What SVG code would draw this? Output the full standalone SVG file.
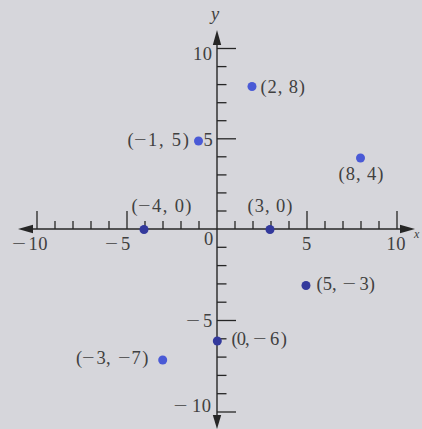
<svg xmlns="http://www.w3.org/2000/svg" width="422" height="429" viewBox="0 0 422 429">
<style>
.ax{stroke:#262626;stroke-width:1.4;fill:none}
.tk{stroke:#262626;stroke-width:1.3}
.ah{fill:#262626}
.lb{font-family:"Liberation Serif","Times New Roman",serif;font-size:18.5px;fill:#404040}
.it{font-style:italic}
.pb{fill:#4a5ad6}
.pd{fill:#33399c}
</style>
<rect width="422" height="429" fill="#d6d6db"/>
<g id="axes">
<line class="ax" x1="217" y1="40" x2="217" y2="420"/>
<line class="ax" x1="28" y1="229" x2="405" y2="229"/>
<polygon class="ah" points="217,30 212.8,45 221.2,45"/>
<polygon class="ah" points="217,429 212.8,415 221.2,415"/>
<polygon class="ah" points="18,229 33,224.8 33,233.2"/>
<polygon class="ah" points="415,229 400,224.8 400,233.2"/>
<text class="lb it" x="211" y="20">y</text>
<text class="lb it" x="414" y="238" style="font-size:12px">x</text>
</g>
<g id="x-ticks" class="tk">
<line x1="37" y1="211" x2="37" y2="229"/>
<line x1="55" y1="221" x2="55" y2="229"/>
<line x1="73" y1="221" x2="73" y2="229"/>
<line x1="91" y1="221" x2="91" y2="229"/>
<line x1="109" y1="221" x2="109" y2="229"/>
<line x1="127" y1="211" x2="127" y2="229"/>
<line x1="145" y1="221" x2="145" y2="229"/>
<line x1="163" y1="221" x2="163" y2="229"/>
<line x1="181" y1="221" x2="181" y2="229"/>
<line x1="199" y1="221" x2="199" y2="229"/>
<line x1="235" y1="221" x2="235" y2="229"/>
<line x1="253" y1="221" x2="253" y2="229"/>
<line x1="271" y1="221" x2="271" y2="229"/>
<line x1="289" y1="221" x2="289" y2="229"/>
<line x1="307" y1="211" x2="307" y2="229"/>
<line x1="325" y1="221" x2="325" y2="229"/>
<line x1="343" y1="221" x2="343" y2="229"/>
<line x1="361" y1="221" x2="361" y2="229"/>
<line x1="379" y1="221" x2="379" y2="229"/>
<line x1="397" y1="211" x2="397" y2="229"/>
</g>
<g id="y-ticks" class="tk">
<line x1="217" y1="48.5" x2="236" y2="48.5"/>
<line x1="217" y1="66.6" x2="226.5" y2="66.6"/>
<line x1="217" y1="84.6" x2="226.5" y2="84.6"/>
<line x1="217" y1="102.7" x2="226.5" y2="102.7"/>
<line x1="217" y1="120.7" x2="226.5" y2="120.7"/>
<line x1="217" y1="138.8" x2="236" y2="138.8"/>
<line x1="217" y1="156.8" x2="226.5" y2="156.8"/>
<line x1="217" y1="174.9" x2="226.5" y2="174.9"/>
<line x1="217" y1="192.9" x2="226.5" y2="192.9"/>
<line x1="217" y1="211" x2="226.5" y2="211"/>
<line x1="217" y1="247.3" x2="226.5" y2="247.3"/>
<line x1="217" y1="265.6" x2="226.5" y2="265.6"/>
<line x1="217" y1="283.9" x2="226.5" y2="283.9"/>
<line x1="217" y1="302.2" x2="226.5" y2="302.2"/>
<line x1="217" y1="320.5" x2="236" y2="320.5"/>
<line x1="217" y1="338.8" x2="226.5" y2="338.8"/>
<line x1="217" y1="357.1" x2="226.5" y2="357.1"/>
<line x1="217" y1="375.4" x2="226.5" y2="375.4"/>
<line x1="217" y1="393.7" x2="226.5" y2="393.7"/>
<line x1="217" y1="412" x2="236" y2="412"/>
</g>
<g id="tick-labels" class="lb">
<text x="193" y="60" textLength="19" lengthAdjust="spacing">10</text>
<text x="203.5" y="146">5</text>
<text x="186" y="327"><tspan textLength="14" lengthAdjust="spacingAndGlyphs">−</tspan><tspan x="203">5</tspan></text>
<text x="173.5" y="412"><tspan textLength="14" lengthAdjust="spacingAndGlyphs">−</tspan><tspan x="192" textLength="19" lengthAdjust="spacing">10</tspan></text>
<text x="12" y="250"><tspan textLength="14" lengthAdjust="spacingAndGlyphs">−</tspan><tspan x="28.5" textLength="19" lengthAdjust="spacing">10</tspan></text>
<text x="105" y="250"><tspan textLength="13" lengthAdjust="spacingAndGlyphs">−</tspan><tspan x="121">5</tspan></text>
<text x="204" y="245">0</text>
<text x="302" y="250">5</text>
<text x="386.5" y="250" textLength="19" lengthAdjust="spacing">10</text>
</g>
<g id="connectors"></g>
<g id="p-2-8"><circle class="pb" cx="252" cy="86.5" r="4.5"/><text class="lb" x="260.5" y="93" textLength="44.5" lengthAdjust="spacing">(2, 8)</text></g>
<g id="p-m1-5"><circle class="pb" cx="198.5" cy="141" r="4.5"/><text class="lb" x="127.5" y="146">(<tspan x="134" textLength="12.5" lengthAdjust="spacingAndGlyphs">−</tspan><tspan x="148" textLength="41" lengthAdjust="spacing">1, 5)</tspan></text></g>
<g id="p-8-4"><circle class="pb" cx="360.5" cy="158" r="4.5"/><text class="lb" x="338.5" y="180" textLength="45" lengthAdjust="spacing">(8, 4)</text></g>
<g id="p-m4-0"><circle class="pd" cx="144" cy="229.5" r="4.5"/><text class="lb" x="131.5" y="212">(<tspan x="138" textLength="12.5" lengthAdjust="spacingAndGlyphs">−</tspan><tspan x="152" textLength="39.5" lengthAdjust="spacing">4, 0)</tspan></text></g>
<g id="p-3-0"><circle class="pd" cx="270" cy="229.5" r="4.5"/><text class="lb" x="247.5" y="212" textLength="45" lengthAdjust="spacing">(3, 0)</text></g>
<g id="p-5-m3"><circle class="pd" cx="306" cy="285.5" r="4.5"/><text class="lb" x="316.5" y="290"><tspan textLength="20" lengthAdjust="spacing">(5,</tspan><tspan x="342.5" textLength="13.5" lengthAdjust="spacingAndGlyphs">−</tspan><tspan x="359.5">3)</tspan></text></g>
<g id="p-0-m6"><circle class="pd" cx="217.3" cy="341" r="4.5"/><text class="lb" x="231.5" y="345"><tspan textLength="18" lengthAdjust="spacing">(0,</tspan><tspan x="253" textLength="13.5" lengthAdjust="spacingAndGlyphs">−</tspan><tspan x="270" textLength="17" lengthAdjust="spacing">6)</tspan></text></g>
<g id="p-m3-m7"><circle class="pb" cx="162.7" cy="360" r="4.5"/><text class="lb" x="76" y="364">(<tspan x="82" textLength="12.5" lengthAdjust="spacingAndGlyphs">−</tspan><tspan x="96.5" textLength="14" lengthAdjust="spacing">3,</tspan><tspan x="118" textLength="12.5" lengthAdjust="spacingAndGlyphs">−</tspan><tspan x="131.5" textLength="17" lengthAdjust="spacing">7)</tspan></text></g>
</svg>
